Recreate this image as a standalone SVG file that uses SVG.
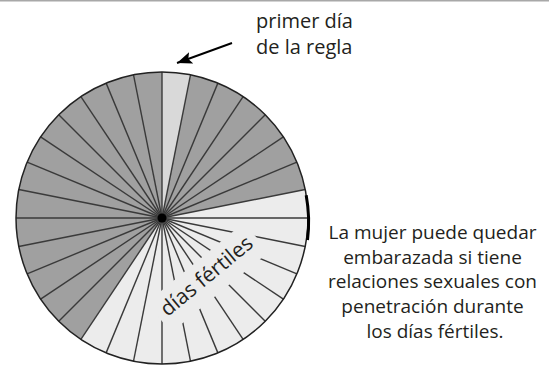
<svg xmlns="http://www.w3.org/2000/svg" width="549" height="368" viewBox="0 0 549 368">
  <defs>
    <marker id="ah" markerWidth="16" markerHeight="12" refX="15" refY="6" orient="auto" markerUnits="userSpaceOnUse">
      <path d="M0,0 L15,6 L0,12 L3,6 Z" fill="#000"/>
    </marker>
  </defs>
  <style>
    .lbl { font-family: "Open Sans", "Liberation Sans", sans-serif; fill: #231f20; }
    .spoke { stroke: #3a3a3a; stroke-width: 1.4; }
  </style>
  <rect width="549" height="368" fill="#fff"/>
  <line x1="0" y1="0.75" x2="549" y2="0.75" stroke="#a8a8a8" stroke-width="1.5"/>

  <g id="wheel">
    <circle cx="162" cy="218" r="146" fill="#a0a0a0"/>
    <path d="M162,218 L305.2,189.52 A146,146 0 0,1 80.89,339.4 Z" fill="#ececec"/>
    <path d="M162,218 L162,72 A146,146 0 0,1 190.48,74.8 Z" fill="#d9d9d9"/>
    <g transform="translate(162,218)">
      <line class="spoke" x1="0" y1="0" x2="0" y2="-146" transform="rotate(0)"/>
      <line class="spoke" x1="0" y1="0" x2="0" y2="-146" transform="rotate(11.25)"/>
      <line class="spoke" x1="0" y1="0" x2="0" y2="-146" transform="rotate(22.5)"/>
      <line class="spoke" x1="0" y1="0" x2="0" y2="-146" transform="rotate(33.75)"/>
      <line class="spoke" x1="0" y1="0" x2="0" y2="-146" transform="rotate(45)"/>
      <line class="spoke" x1="0" y1="0" x2="0" y2="-146" transform="rotate(56.25)"/>
      <line class="spoke" x1="0" y1="0" x2="0" y2="-146" transform="rotate(67.5)"/>
      <line class="spoke" x1="0" y1="0" x2="0" y2="-146" transform="rotate(78.75)"/>
      <line class="spoke" x1="0" y1="0" x2="0" y2="-146" transform="rotate(90)"/>
      <line class="spoke" x1="0" y1="0" x2="0" y2="-146" transform="rotate(101.25)"/>
      <line class="spoke" x1="0" y1="0" x2="0" y2="-146" transform="rotate(112.5)"/>
      <line class="spoke" x1="0" y1="0" x2="0" y2="-146" transform="rotate(123.75)"/>
      <line class="spoke" x1="0" y1="0" x2="0" y2="-146" transform="rotate(135)"/>
      <line class="spoke" x1="0" y1="0" x2="0" y2="-146" transform="rotate(146.25)"/>
      <line class="spoke" x1="0" y1="0" x2="0" y2="-146" transform="rotate(157.5)"/>
      <line class="spoke" x1="0" y1="0" x2="0" y2="-146" transform="rotate(168.75)"/>
      <line class="spoke" x1="0" y1="0" x2="0" y2="-146" transform="rotate(180)"/>
      <line class="spoke" x1="0" y1="0" x2="0" y2="-146" transform="rotate(191.25)"/>
      <line class="spoke" x1="0" y1="0" x2="0" y2="-146" transform="rotate(202.5)"/>
      <line class="spoke" x1="0" y1="0" x2="0" y2="-146" transform="rotate(213.75)"/>
      <line class="spoke" x1="0" y1="0" x2="0" y2="-146" transform="rotate(225)"/>
      <line class="spoke" x1="0" y1="0" x2="0" y2="-146" transform="rotate(236.25)"/>
      <line class="spoke" x1="0" y1="0" x2="0" y2="-146" transform="rotate(247.5)"/>
      <line class="spoke" x1="0" y1="0" x2="0" y2="-146" transform="rotate(258.75)"/>
      <line class="spoke" x1="0" y1="0" x2="0" y2="-146" transform="rotate(270)"/>
      <line class="spoke" x1="0" y1="0" x2="0" y2="-146" transform="rotate(281.25)"/>
      <line class="spoke" x1="0" y1="0" x2="0" y2="-146" transform="rotate(292.5)"/>
      <line class="spoke" x1="0" y1="0" x2="0" y2="-146" transform="rotate(303.75)"/>
      <line class="spoke" x1="0" y1="0" x2="0" y2="-146" transform="rotate(315)"/>
      <line class="spoke" x1="0" y1="0" x2="0" y2="-146" transform="rotate(326.25)"/>
      <line class="spoke" x1="0" y1="0" x2="0" y2="-146" transform="rotate(337.5)"/>
      <line class="spoke" x1="0" y1="0" x2="0" y2="-146" transform="rotate(348.75)"/>
    </g>
    <g transform="translate(211,281.5) rotate(-39.5)">
      <rect x="-63" y="-24.5" width="126" height="38.5" fill="#ececec"/>
      <text class="lbl" x="0" y="0" font-size="21" text-anchor="middle">días fértiles</text>
    </g>
    <circle cx="162" cy="218" r="4.5" fill="#000"/>
    <circle cx="162" cy="218" r="146" fill="none" stroke="#222" stroke-width="1.5"/>
    <path d="M306.2,195.2 A147,147 0 0,1 307.5,240" fill="none" stroke="#000" stroke-width="3"/>
  </g>

  <g id="label-first-day">
    <text class="lbl" font-size="20"><tspan x="256" y="28">primer día</tspan><tspan x="256" y="54">de la regla</tspan></text>
  </g>

  <g id="connectors">
    <line x1="232" y1="43" x2="177" y2="63" stroke="#000" stroke-width="2" marker-end="url(#ah)"/>
  </g>

  <g id="note">
    <text class="lbl" font-size="19" text-anchor="middle">
      <tspan x="435" y="239">La mujer puede quedar</tspan>
      <tspan x="435" y="264">embarazada si tiene</tspan>
      <tspan x="435" y="288">relaciones sexuales con</tspan>
      <tspan x="435" y="313">penetración durante</tspan>
      <tspan x="435" y="338">los días fértiles.</tspan>
    </text>
  </g>
</svg>
